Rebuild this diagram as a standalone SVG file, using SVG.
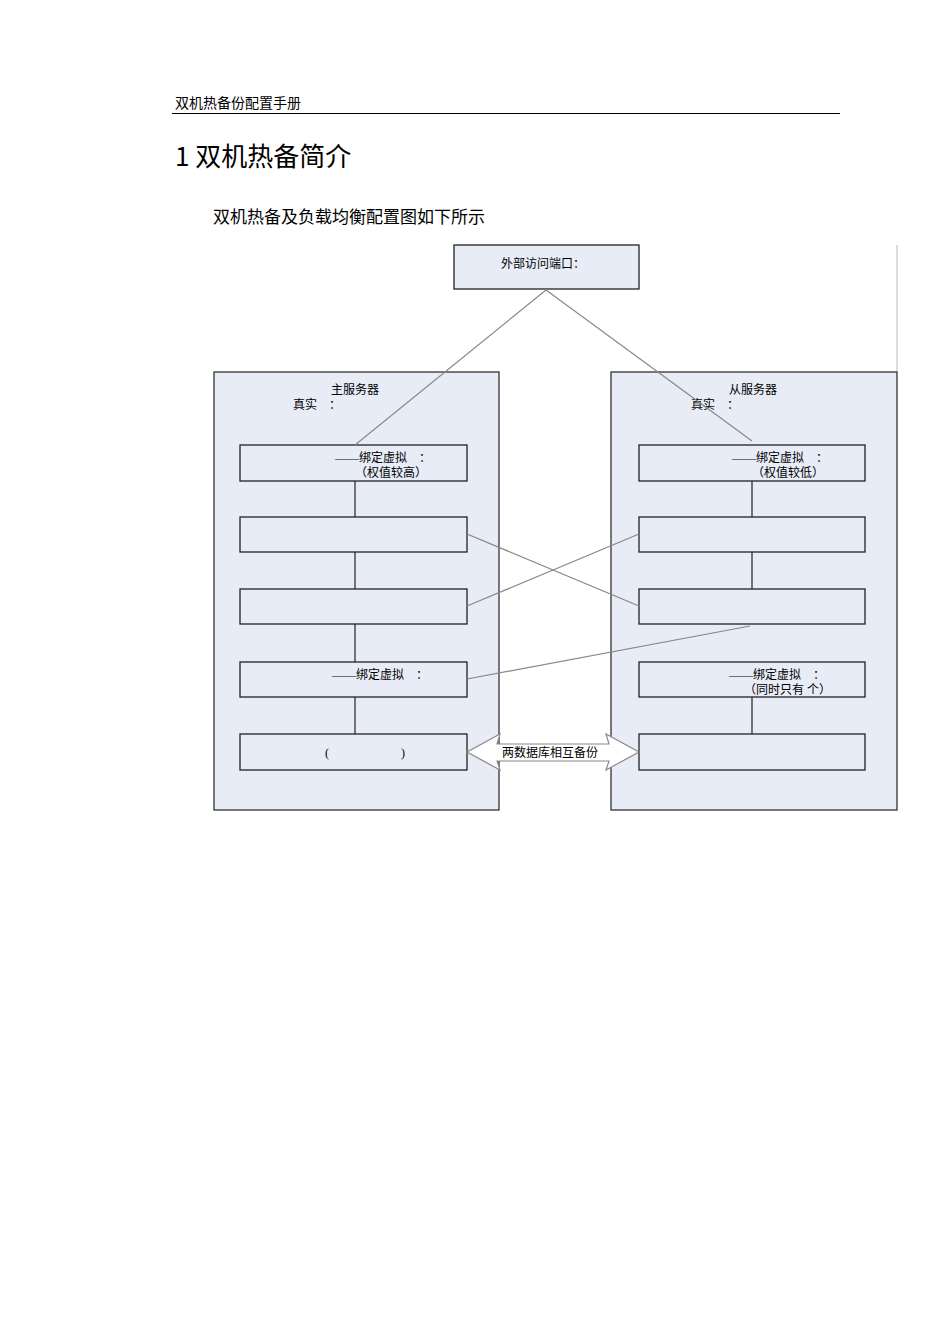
<svg xmlns="http://www.w3.org/2000/svg" width="950" height="1344" viewBox="0 0 950 1344">
<style>
text{font-family:"Liberation Serif","Noto Sans CJK SC",serif;fill:#000}
.c{fill:#e8ecf6;stroke:#333;stroke-width:1.3}
.b{fill:#e8ecf6;stroke:#222;stroke-width:1.3}
.t{font-size:12px}
.v{stroke:#222;stroke-width:1.2}
.g{stroke:#888;stroke-width:1.2;fill:none}
</style>
<rect width="950" height="1344" fill="#fff"/>
<text x="175" y="108" font-size="14">双机热备份配置手册</text>
<line x1="172" y1="113.500" x2="840" y2="113.500" stroke="#000" stroke-width="1.2"/>
<text x="175" y="166" font-size="26" style="font-family:'Noto Sans CJK SC',sans-serif">1 双机热备简介</text>
<text x="213" y="223" font-size="17">双机热备及负载均衡配置图如下所示</text>
<line x1="897" y1="245" x2="897" y2="372" stroke="#bbb"/>
<g id="ext"><rect class="b" x="454" y="245" width="185" height="44"/><text class="t" x="501" y="268">外部访问端口：</text></g>
<g id="main"><rect class="c" x="214" y="372" width="285" height="438"/><text class="t" x="331" y="394">主服务器</text><text class="t" x="293" y="409">真实　：</text></g>
<g id="slave"><rect class="c" x="611" y="372" width="286" height="438"/><text class="t" x="729" y="394">从服务器</text><text class="t" x="691" y="409">真实　：</text></g>
<g id="L1"><rect class="b" x="240" y="445" width="227" height="36"/><text class="t" x="335" y="462">——绑定虚拟　：</text><text class="t" x="355" y="477">（权值较高）</text></g>
<g id="L2"><rect class="b" x="240" y="517" width="227" height="35"/></g>
<g id="L3"><rect class="b" x="240" y="589" width="227" height="35"/></g>
<g id="L4"><rect class="b" x="240" y="662" width="227" height="35"/><text class="t" x="332" y="679">——绑定虚拟　：</text></g>
<g id="L5"><rect class="b" x="240" y="734" width="227" height="36"/><text class="t" x="325" y="757">(　　　　　　)</text></g>
<g id="R1"><rect class="b" x="639" y="445" width="226" height="36"/><text class="t" x="732" y="462">——绑定虚拟　：</text><text class="t" x="752" y="477">（权值较低）</text></g>
<g id="R2"><rect class="b" x="639" y="517" width="226" height="35"/></g>
<g id="R3"><rect class="b" x="639" y="589" width="226" height="35"/></g>
<g id="R4"><rect class="b" x="639" y="662" width="226" height="35"/><text class="t" x="729" y="679">——绑定虚拟　：</text><text class="t" x="744" y="694">（同时只有 个）</text></g>
<g id="R5"><rect class="b" x="639" y="734" width="226" height="36"/></g>
<g id="connectors">
<line class="g" x1="546" y1="290" x2="355" y2="445"/>
<line class="g" x1="546" y1="290" x2="752" y2="441"/>
<line class="g" x1="467" y1="534" x2="639" y2="606"/>
<line class="g" x1="467" y1="606" x2="639" y2="534"/>
<line class="g" x1="467" y1="679" x2="750" y2="626"/>
<line class="v" x1="355" y1="481" x2="355" y2="517"/>
<line class="v" x1="355" y1="552" x2="355" y2="589"/>
<line class="v" x1="355" y1="624" x2="355" y2="662"/>
<line class="v" x1="355" y1="697" x2="355" y2="734"/>
<line class="v" x1="752" y1="481" x2="752" y2="517"/>
<line class="v" x1="752" y1="552" x2="752" y2="589"/>
<line class="v" x1="752" y1="697" x2="752" y2="734"/>
<polygon points="467,752 500,734 497,744 609,744 606,734 639,752 606,770 609,761 497,761 500,770" fill="#fff" stroke="#888" stroke-width="1.2"/>
<text class="t" x="502" y="757">两数据库相互备份</text>
</g>
</svg>
